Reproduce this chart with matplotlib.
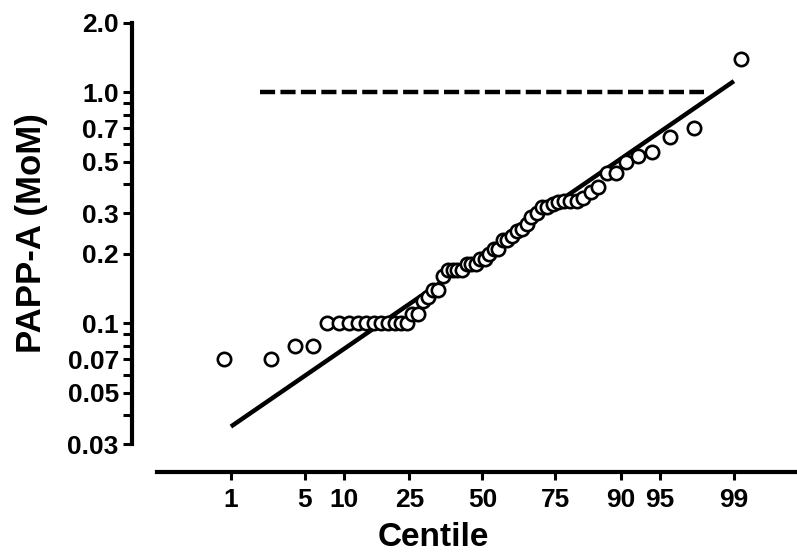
import numpy as np
import matplotlib
matplotlib.use('Agg')
import matplotlib.pyplot as plt
from statistics import NormalDist

# PAPP-A MoM values, sorted (n = 60)
mom = [0.07, 0.07, 0.08, 0.08,
       0.10, 0.10, 0.10, 0.10, 0.10, 0.10, 0.10, 0.10, 0.10, 0.10, 0.10,
       0.11, 0.11, 0.125, 0.13, 0.14, 0.14, 0.16,
       0.17, 0.17, 0.17, 0.17, 0.18, 0.18, 0.18, 0.19, 0.19, 0.20,
       0.21, 0.21, 0.23, 0.23, 0.24, 0.25, 0.255, 0.27, 0.29, 0.30,
       0.32, 0.32, 0.33, 0.335, 0.34, 0.34, 0.34, 0.35, 0.37, 0.39,
       0.45, 0.45, 0.50, 0.53, 0.55, 0.64, 0.70, 1.40]

# fitted line (log-normal) end points, at the 1st and 99th centile
fit_centiles = [1, 99]
fit_mom = [0.0357, 1.12]

# reference line at 1.0 MoM
ref_centiles = [2, 98]
ref_mom = [1.0, 1.0]

xtick_centiles = [1, 5, 10, 25, 50, 75, 90, 95, 99]
ytick_major = [0.03, 0.05, 0.07, 0.1, 0.2, 0.3, 0.5, 0.7, 1.0, 2.0]
ytick_labels = ['0.03', '0.05', '0.07', '0.1', '0.2', '0.3', '0.5', '0.7', '1.0', '2.0']
ytick_minor = [0.04, 0.06, 0.08, 0.09, 0.4, 0.6, 0.8, 0.9]

nd = NormalDist()
def probit(c):
    return np.array([nd.inv_cdf(v / 100.0) for v in np.atleast_1d(c)])

n = len(mom)
centiles = (np.arange(1, n + 1) - 0.5) / n * 100

plt.rcParams['font.family'] = ['Liberation Sans', 'DejaVu Sans']
plt.rcParams['font.weight'] = 'bold'

fig = plt.figure(figsize=(7.97, 5.58), dpi=100)
ax = fig.add_axes([157 / 797, (558 - 444) / 558, 640 / 797, (444 - 23) / 558])

ax.plot(probit(fit_centiles), fit_mom, color='black', lw=3.2, solid_capstyle='butt')
ax.plot(probit(ref_centiles), ref_mom, color='black', lw=3.2, dashes=(3.4, 1.2))
ax.plot(probit(centiles), mom, 'o', ms=9.6, mfc='white', mec='black', mew=1.9,
        clip_on=False, zorder=3)

ax.set_yscale('log')
ax.set_ylim(0.03, 2.0)
ax.set_xlim(-3.01, 2.91)

ax.set_yticks(ytick_major)
ax.set_yticklabels(ytick_labels)
ax.set_yticks(ytick_minor, minor=True)
ax.yaxis.set_minor_formatter(matplotlib.ticker.NullFormatter())
ax.set_xticks(probit(xtick_centiles))
ax.set_xticklabels([str(c) for c in xtick_centiles])

for s in ['top', 'right']:
    ax.spines[s].set_visible(False)
ax.spines['left'].set_position(('outward', 18))
ax.spines['bottom'].set_position(('outward', 20))
ax.spines['left'].set_linewidth(3)
ax.spines['bottom'].set_linewidth(3)

ax.tick_params(axis='y', which='both', length=6.5, width=2.2, labelsize=19, pad=3)
ax.tick_params(axis='x', which='major', length=6, width=2.2, labelsize=19, pad=6)

ax.set_xlabel('Centile', fontsize=24, fontweight='bold')
ax.set_ylabel('PAPP-A (MoM)', fontsize=25, fontweight='bold')
ax.xaxis.set_label_coords(0.431, -0.186)
ax.yaxis.set_label_coords(-0.17, 0.5)

fig.savefig('out.png', dpi=100)
